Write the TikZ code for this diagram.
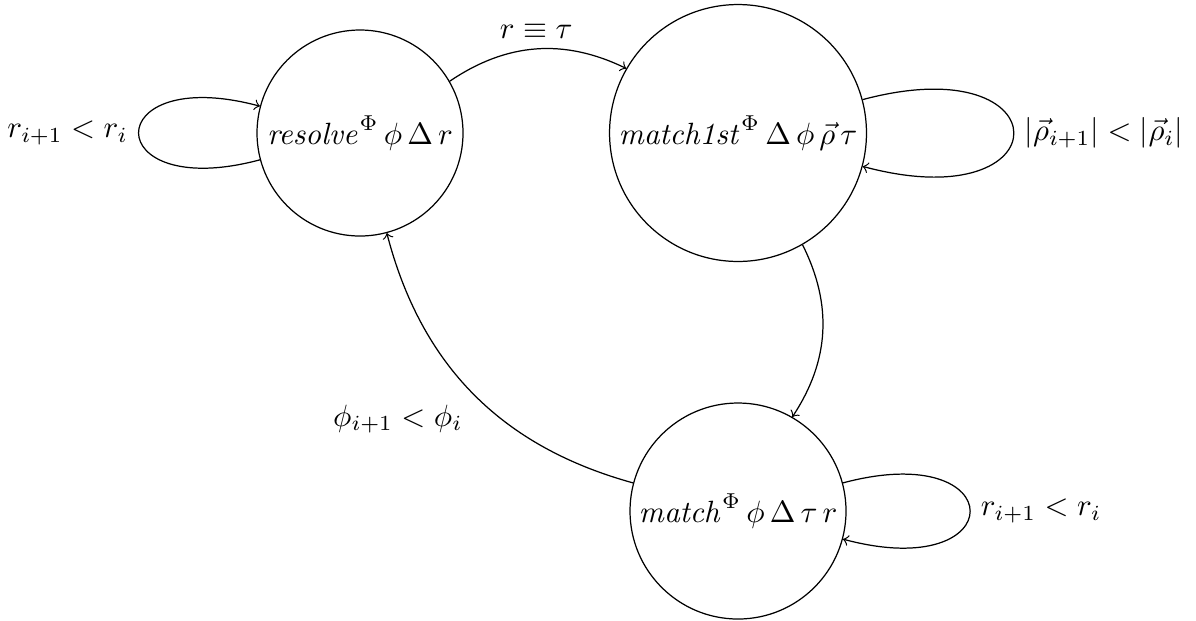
\documentclass[tikz,border=0pt]{standalone}
\usepackage{amsmath}
\begin{document}
\begin{tikzpicture}[x=0.325pt,y=0.325pt,
  state/.style={circle,draw,inner sep=0pt},
  trans/.style={->}]
\useasboundingbox (0,0) rectangle (1196,620);
\node[state,minimum size=66.95pt] (R) at (360,487) {$\mathit{resolve}^{\Phi}\,\phi\,\Delta\,r$};
\node[state,minimum size=83.5pt] (M1) at (738,487) {$\mathit{match1st}^{\Phi}\,\Delta\,\phi\,\vec{\rho}\,\tau$};
\node[state,minimum size=70.2pt] (M) at (738,109) {$\mathit{match}^{\Phi}\,\phi\,\Delta\,\tau\,r$};
\draw[trans] (R) to[bend left=30] node[above] {$r \equiv \tau$} (M1);
\draw[trans] (R) to[loop left] node[left] {$r_{i+1} < r_i$} (R);
\draw[trans] (M1) to[loop right] node[right] {$|\vec{\rho}_{i+1}| < |\vec{\rho}_i|$} (M1);
\draw[trans] (M1) to[bend left=30] (M);
\draw[trans] (M) to[loop right] node[right] {$r_{i+1} < r_i$} (M);
\draw[trans] (M) to[bend left=30] node[below left] {$\phi_{i+1} < \phi_i$} (R);
\end{tikzpicture}
\end{document}
